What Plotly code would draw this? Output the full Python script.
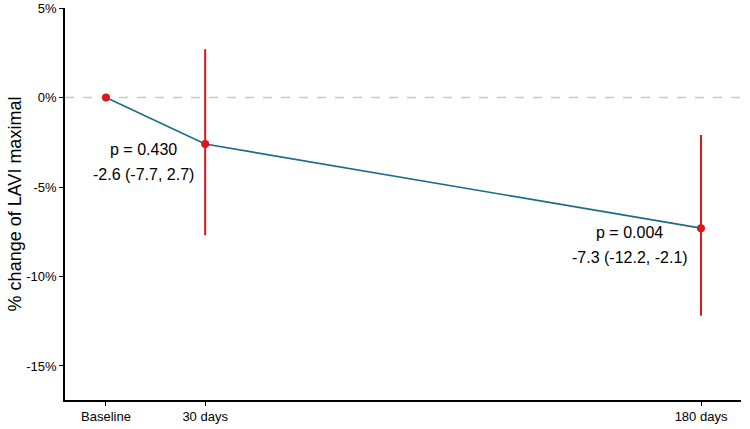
import plotly.graph_objects as go

days = [0, 30, 180]
tick_labels = ["Baseline", "30 days", "180 days"]
change = [0.0, -2.6, -7.3]
ci_low = [None, -7.7, -12.2]
ci_high = [None, 2.7, -2.1]
p_values = [None, "0.430", "0.004"]
y_ticks = [5, 0, -5, -10, -15]

line_color = "#1B6C86"
red = "#D7191C"
FONT = "Liberation Sans, Arial"

fig = go.Figure()

# CI vertical lines
for d, lo, hi in zip(days, ci_low, ci_high):
    if lo is None:
        continue
    fig.add_trace(go.Scatter(x=[d, d], y=[lo, hi], mode="lines",
                             line=dict(color=red, width=2), showlegend=False,
                             hoverinfo="skip"))

fig.add_trace(go.Scatter(x=days, y=change, mode="lines",
                         line=dict(color=line_color, width=1.6), showlegend=False))
fig.add_trace(go.Scatter(x=days, y=change, mode="markers",
                         marker=dict(color=red, size=8), showlegend=False))

fig.add_hline(y=0, line=dict(color="#C8C8C8", width=1.5, dash="dash"), layer="below")

# annotations (two lines each, with wider line spacing)
ann_pos = [None, (11.2, -3.6), (158.5, -8.25)]
for i in range(len(days)):
    if p_values[i] is None:
        continue
    ax, ay = ann_pos[i]
    lines = [f"p = {p_values[i]}", f"{change[i]:.1f} ({ci_low[i]:.1f}, {ci_high[i]:.1f})"]
    for txt, shift in zip(lines, [12.5, -12.5]):
        fig.add_annotation(x=ax, y=ay, text=txt, showarrow=False, yshift=shift,
                           font=dict(size=16, color="black", family=FONT),
                           align="center")

fig.update_layout(
    width=750, height=429,
    margin=dict(l=65, r=9, t=8, b=29),
    plot_bgcolor="white", paper_bgcolor="white",
    font=dict(family=FONT, color="black"),
)
fig.update_xaxes(
    range=[-12.4, 192.1], tickvals=days, ticktext=tick_labels, automargin=False,
    showgrid=False, zeroline=False, showline=True, linecolor="black", linewidth=1.5,
    ticks="outside", ticklen=4, tickcolor="black", tickfont=dict(size=13, color="black"),
)
fig.update_yaxes(
    range=[-16.9, 5], tickvals=y_ticks, ticktext=[f"{v}%" for v in y_ticks], automargin=False,
    showgrid=False, zeroline=False, showline=True, linecolor="black", linewidth=1.5,
    ticks="outside", ticklen=4, tickcolor="black", tickfont=dict(size=13, color="black"),
    title=dict(text="% change of LAVI maximal", font=dict(size=18, color="black"), standoff=0),
)

fig.write_html("out.html", config={"displayModeBar": False},
               post_script="document.body.style.margin='0';")
